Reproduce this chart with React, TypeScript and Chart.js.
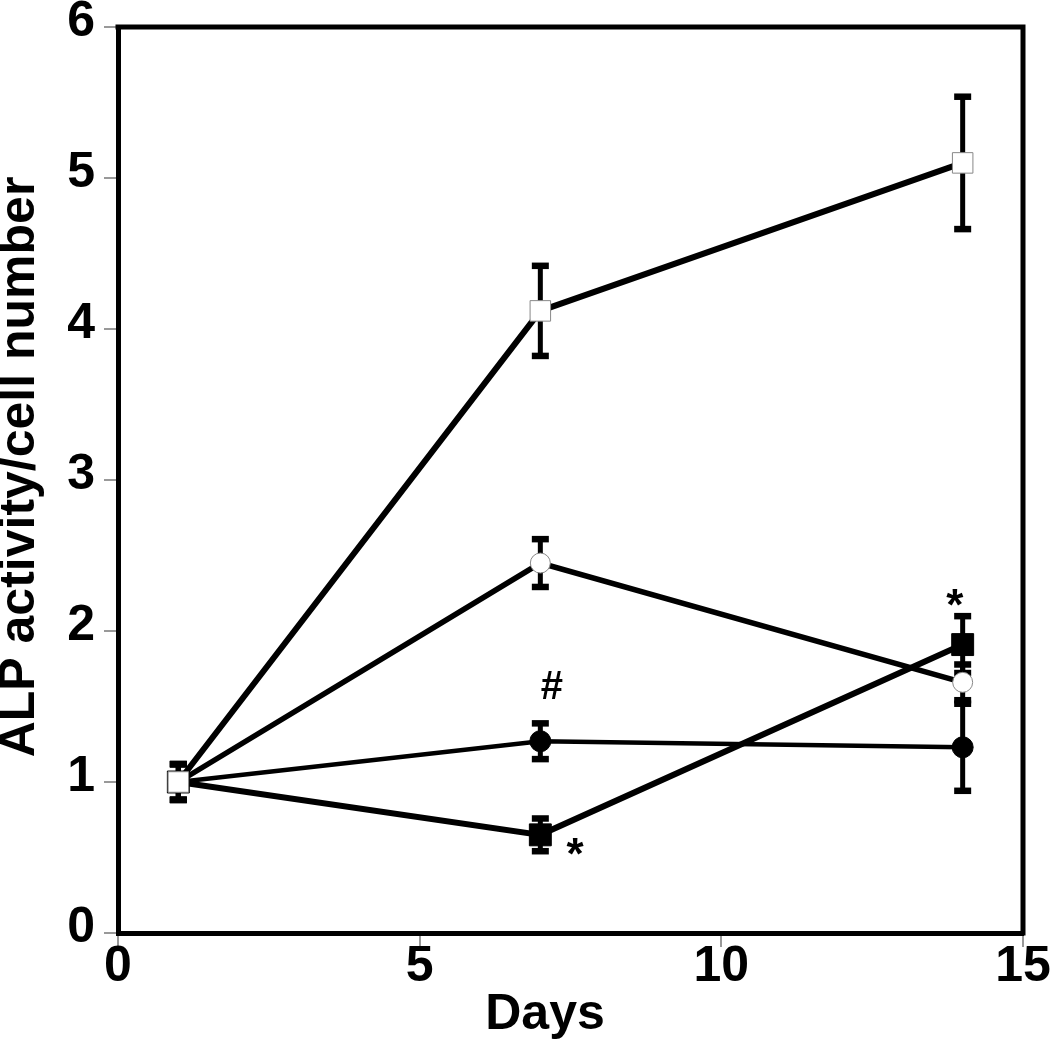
import { useEffect, useRef } from "react";
import { Chart, registerables } from "chart.js";

Chart.register(...registerables);

const days = [1, 7, 14];
const openSquareMean = [1.0, 4.12, 5.1];
const openSquareErr = [0.12, 0.3, 0.44];
const openCircleMean = [1.0, 2.45, 1.66];
const openCircleErr = [0.12, 0.16, 0.12];
const filledCircleMean = [1.0, 1.27, 1.23];
const filledCircleErr = [0.12, 0.12, 0.29];
const filledSquareMean = [1.0, 0.65, 1.91];
const filledSquareErr = [0.12, 0.11, 0.19];

const xTickValues = [0, 5, 10, 15];
const yTickValues = [0, 1, 2, 3, 4, 5, 6];
const xTitle = "Days";
const yTitle = "ALP activity/cell number";

const markTexts = ["#", "*", "*"];
const markX = [7.19, 7.575, 13.87];
const markY = [1.64, 0.57, 2.225];
const markBold = [true, true, true];

const FONT = "'Liberation Sans', Arial, sans-serif";

export default function App() {
  const ref = useRef<HTMLCanvasElement | null>(null);

  useEffect(() => {
    document.body.style.margin = "0";
    const canvas = ref.current;
    if (!canvas) return;

    const series = [
      { mean: openSquareMean, err: openSquareErr, style: "rect", fill: "#ffffff", border: "#888888", radius: 14.5, width: 6 },
      { mean: openCircleMean, err: openCircleErr, style: "circle", fill: "#ffffff", border: "#888888", radius: 10, width: 5.5 },
      { mean: filledSquareMean, err: filledSquareErr, style: "rect", fill: "#000000", border: "#000000", radius: 15.5, width: 6 },
      { mean: filledCircleMean, err: filledCircleErr, style: "circle", fill: "#000000", border: "#000000", radius: 10.5, width: 4.5 },
    ];

    const errorBarPlugin = {
      id: "errorBars",
      beforeDatasetsDraw(chart: any) {
        const ctx = chart.ctx;
        const xs = chart.scales.x;
        const ys = chart.scales.y;
        ctx.save();
        ctx.fillStyle = "#000";
        series.forEach((s) => {
          days.forEach((d, i) => {
            const px = xs.getPixelForValue(d);
            const top = ys.getPixelForValue(s.mean[i] + s.err[i]);
            const bot = ys.getPixelForValue(s.mean[i] - s.err[i]);
            ctx.fillRect(px - 2.5, top, 5, bot - top);
            ctx.fillRect(px - 8.5, top - 3, 17, 6.5);
            ctx.fillRect(px - 8.5, bot - 3.5, 17, 6.5);
          });
        });
        ctx.restore();
      },
    };

    const decorPlugin = {
      id: "decor",
      afterDraw(chart: any) {
        const ctx = chart.ctx;
        const a = chart.chartArea;
        const xs = chart.scales.x;
        const ys = chart.scales.y;
        ctx.save();
        // frame top & right
        ctx.strokeStyle = "#000";
        ctx.lineWidth = 5;
        ctx.beginPath();
        ctx.moveTo(a.left - 2.5, a.top);
        ctx.lineTo(a.right, a.top);
        ctx.lineTo(a.right, a.bottom + 2.5);
        ctx.stroke();

        ctx.fillStyle = "#000";
        // axis titles
        ctx.font = `bold 50px ${FONT}`;
        ctx.textAlign = "center";
        ctx.textBaseline = "middle";
        ctx.fillText(xTitle, a.left + 427, a.bottom + 82);
        ctx.save();
        ctx.translate(a.left - 98, (a.top + a.bottom) / 2 - 13);
        ctx.rotate(-Math.PI / 2);
        ctx.fillText(yTitle, 0, 0);
        ctx.restore();

        // annotations (ink centred on the data point)
        markTexts.forEach((t, i) => {
          ctx.font = markBold[i] ? `bold ${t === "#" ? 40 : 44}px ${FONT}` : `42px ${FONT}`;
          ctx.textBaseline = "alphabetic";
          const m = ctx.measureText(t);
          const px = xs.getPixelForValue(markX[i]);
          const py = ys.getPixelForValue(markY[i]);
          ctx.fillText(t, px, py + (m.actualBoundingBoxAscent - m.actualBoundingBoxDescent) / 2);
        });
        ctx.restore();
      },
    };

    const tickFont = { family: FONT, size: 50, weight: "bold" as const };

    const chart = new Chart(canvas, {
      type: "scatter",
      data: {
        datasets: series.map((s) => ({
          data: days.map((d, i) => ({ x: d, y: s.mean[i] })),
          showLine: true,
          borderColor: "#000",
          borderWidth: s.width,
          pointStyle: s.style as any,
          pointRadius: s.radius,
          pointHoverRadius: s.radius,
          pointBackgroundColor: s.fill,
          pointBorderColor: s.border,
          pointBorderWidth: 1,
          tension: 0,
        })),
      },
      options: {
        responsive: false,
        animation: false,
        devicePixelRatio: 1,
        layout: { padding: { top: 27, right: 27, left: 0, bottom: 0 } },
        plugins: { legend: { display: false }, tooltip: { enabled: false } },
        scales: {
          x: {
            type: "linear",
            min: 0,
            max: 15,
            afterBuildTicks: (scale: any) => {
              scale.ticks = xTickValues.map((v) => ({ value: v }));
            },
            afterFit: (scale: any) => {
              scale.height = 109;
            },
            ticks: { font: tickFont, color: "#000", padding: -10, maxRotation: 0, autoSkip: false },
            grid: { drawOnChartArea: false, color: "#999", lineWidth: 2, tickLength: 14 },
            border: { color: "#000", width: 5 },
          },
          y: {
            type: "linear",
            min: 0,
            max: 6,
            afterBuildTicks: (scale: any) => {
              scale.ticks = yTickValues.map((v) => ({ value: v }));
            },
            afterFit: (scale: any) => {
              scale.width = 118;
              scale.paddingTop = 0;
            },
            ticks: { font: tickFont, color: "#000", padding: 9, labelOffset: -5, autoSkip: false },
            grid: { drawOnChartArea: false, color: "#999", lineWidth: 2, tickLength: 14 },
            border: { color: "#000", width: 5 },
          },
        },
      },
      plugins: [errorBarPlugin, decorPlugin],
    });

    return () => chart.destroy();
  }, []);

  return (
    <div style={{ width: 1050, height: 1042 }}>
      <canvas ref={ref} width={1050} height={1042} style={{ display: "block" }} />
    </div>
  );
}
